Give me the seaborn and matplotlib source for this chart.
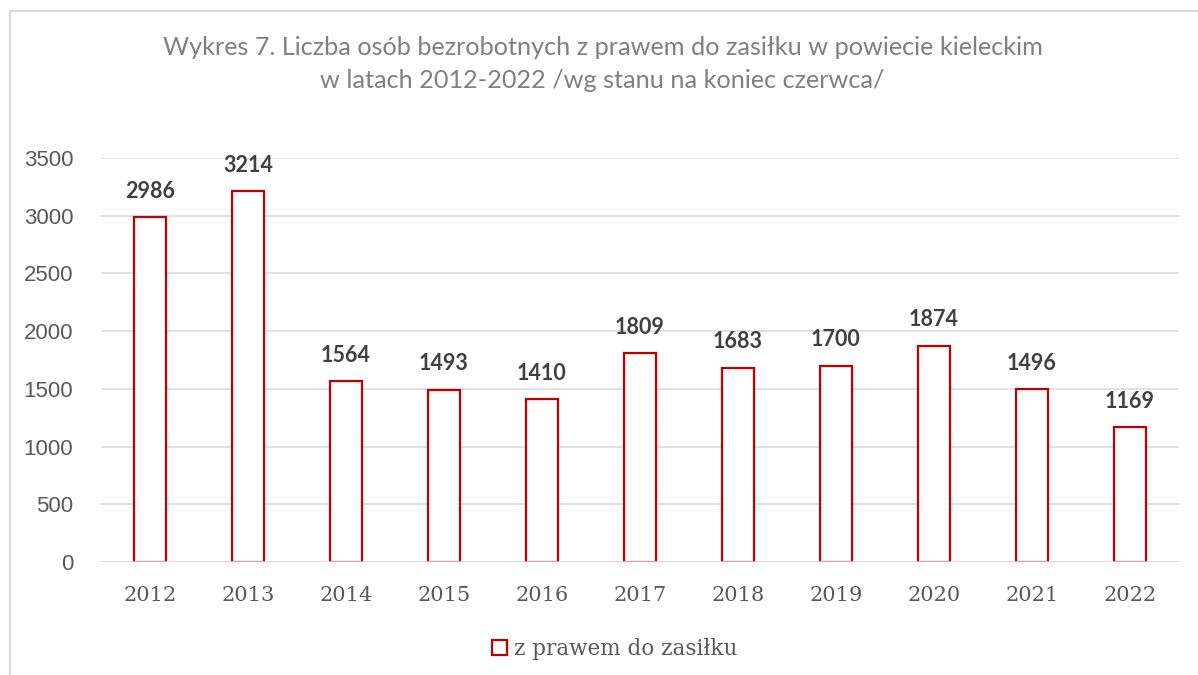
import matplotlib
matplotlib.use('Agg')
import matplotlib.pyplot as plt
import seaborn as sns
import pandas as pd
from matplotlib.patches import Patch
from matplotlib.lines import Line2D

# values
years = ['2012', '2013', '2014', '2015', '2016', '2017', '2018', '2019', '2020', '2021', '2022']
unemployed = [2986, 3214, 1564, 1493, 1410, 1809, 1683, 1700, 1874, 1496, 1169]
y_ticks = [0, 500, 1000, 1500, 2000, 2500, 3000, 3500]
series_label = 'z prawem do zasiłku'
title = ('Wykres 7. Liczba osób bezrobotnych z prawem do zasiłku w powiecie kieleckim\n'
         'w latach 2012-2022 /wg stanu na koniec czerwca/')

RED = '#C00000'
GRID = '#D9D9D9'

sns.set_theme(style='white')
plt.rcParams['font.family'] = ['Liberation Sans', 'DejaVu Sans']

df = pd.DataFrame({'rok': years, 'liczba': unemployed})

fig = plt.figure(figsize=(11.98, 6.75), dpi=100)
ax = fig.add_axes([0.0843, 0.1674, 0.8997, 0.5986])

sns.barplot(data=df, x='rok', y='liczba', ax=ax, color='white', width=0.32,
            edgecolor=RED, linewidth=1.6, saturation=1, zorder=3)

ax.set_ylim(0, 3500)
ax.set_xlim(-0.5, len(years) - 0.5)
ax.set_yticks(y_ticks)
ax.yaxis.grid(True, color=GRID, linewidth=1.1, zorder=0)
ax.set_axisbelow(True)
for s in ax.spines.values():
    s.set_visible(False)
ax.axhline(0, color=GRID, linewidth=1.1, zorder=4)

ax.set_xlabel('')
ax.set_ylabel('')
ax.tick_params(axis='y', labelsize=16, labelcolor='#595959', length=0, pad=20)
ax.tick_params(axis='x', labelsize=15, labelcolor='#595959', length=0, pad=17)
for lab in ax.get_xticklabels():
    lab.set_family(['DejaVu Serif'])

# data labels
for i, v in enumerate(unemployed):
    ax.annotate(f'{v}', (i, v), xytext=(0, 11), textcoords='offset points',
                ha='center', va='bottom', fontsize=15.5, fontweight='bold',
                color='#404040', family=['Lato', 'DejaVu Sans'])

fig.text(0.503, 0.905, title, ha='center', va='center', fontsize=18.2,
         color='#808080', family=['Lato', 'DejaVu Sans'], linespacing=1.5)

handle = Patch(facecolor='white', edgecolor=RED, linewidth=1.6)
leg = fig.legend([handle], [series_label], loc='center', bbox_to_anchor=(0.513, 0.039),
                 frameon=False, handlelength=0.7, handleheight=0.7, handletextpad=0.3,
                 prop={'family': 'DejaVu Serif', 'size': 15.5})
for t in leg.get_texts():
    t.set_color('#595959')

# outer chart frame
fig.add_artist(Line2D([0.008, 0.008], [0, 0.984], color=GRID, linewidth=1.5, transform=fig.transFigure))
fig.add_artist(Line2D([0.008, 0.999], [0.984, 0.984], color=GRID, linewidth=1.5, transform=fig.transFigure))

fig.savefig('out.png', dpi=100, facecolor='white')
